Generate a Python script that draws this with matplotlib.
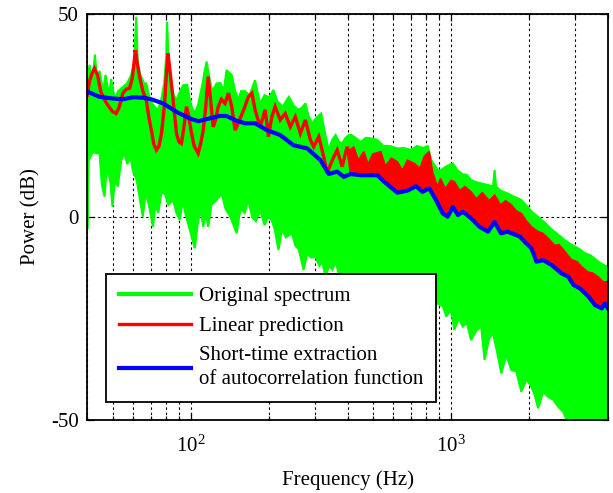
import numpy as np
import matplotlib
matplotlib.use("Agg")
import matplotlib.pyplot as plt
from matplotlib.lines import Line2D
from matplotlib.ticker import LogLocator, FixedLocator, NullFormatter

plt.rcParams['font.family'] = ['Liberation Serif', 'DejaVu Serif']
plt.rcParams['mathtext.fontset'] = 'custom'
plt.rcParams['mathtext.rm'] = 'Liberation Serif'
plt.rcParams['mathtext.it'] = 'Liberation Serif:italic'
plt.rcParams['axes.unicode_minus'] = False

# ---------------- data ----------------
# Original spectrum: upper envelope
green_up_f = [40, 40.8, 41.8, 42.8, 43.6, 44.6, 46, 47, 48.5, 49.4, 51, 52.5, 54.8, 57, 59, 60.5,
              61.7, 62.5, 64, 66, 67.4, 69, 71, 73, 74.8, 77, 79, 80.5, 81, 82, 84, 86, 88, 91,
              93.5, 96.8, 99, 101, 103.6, 107, 111, 113, 115, 118, 121, 125.6, 130, 134, 137,
              143.6, 148, 152, 156, 161.5, 168, 176.5, 180, 184.6, 192, 200, 207.7, 215, 226, 232,
              238, 248, 259, 268, 275.6, 283, 292, 300, 310, 317, 328, 339, 349, 360, 371, 381.5,
              393, 405, 414, 430, 450,
              470, 490, 520, 550, 580, 622, 660, 700, 740, 780, 813, 840, 870, 890, 915, 960,
              1016, 1060, 1110, 1150, 1194, 1250, 1320, 1400, 1450, 1470, 1490, 1550, 1650, 1750,
              1862, 1950, 2050, 2160, 2300, 2450, 2600, 2737, 2900, 3100, 3270, 3450, 3650, 3850, 4000]
green_up = [33, 37.5, 33, 40, 34, 36, 31, 35, 30, 34, 29, 31, 32, 33, 35, 38,
            49.3, 38, 35, 33, 32.9, 30, 28, 27, 26.4, 29, 33, 40, 48.1, 40, 33, 30, 28.8, 31,
            32.5, 32.5, 29, 27, 25.5, 28, 33, 36, 38.3, 34, 31, 32.9, 33, 31, 36.2,
            35, 31, 28.8, 31, 31, 30, 33.7, 31, 28, 30, 29.5, 31.3, 28.5, 27.2, 28.5,
            29.6, 27.5, 26.4, 27, 28, 25, 23.1, 24, 25, 25.5, 20.5, 16.5, 19, 20.2, 18.5, 18.2,
            19.5, 20.2, 20.2, 19.5, 18.5,
            19.5, 19.4, 19, 17.5, 17.5, 16.9, 17, 16.5, 17.5, 17, 17.5, 14, 12.5, 11.6, 11.6, 12.5,
            13.2, 11.5, 10.5, 10.4, 9.1, 8.6, 8.2, 7.8, 7.5, 11.6, 7.5, 6.5, 5.8, 5.0,
            4.2, 2.8, 1.2, 0.1, -1.5, -3.2, -4.5, -5.7, -6.8, -7.8, -8.9, -9.5, -10.8, -11.8, -12.2]

# Original spectrum: lower envelope
green_lo_f = [40, 40.5, 42, 43.5, 44.6, 45.5, 46.6, 47.5, 49, 50, 51, 52.4, 54, 55.6, 57, 58.5, 60,
              62, 63.5, 65.4, 67, 69, 71.5, 73, 75, 77, 79.4, 82, 85.5, 88, 90.7, 93, 96, 99,
              103.6, 106, 109, 111.6, 114, 116.6, 120, 125, 131.3, 136, 142, 146, 150, 155, 161,
              166.3, 172, 178, 184.6, 192, 198, 204.3, 210, 217.1, 224, 232, 244.8, 252, 260,
              271.2, 280, 290, 301, 312, 320, 329, 340, 350, 360, 370, 380, 450, 600, 800, 930,
              958, 1000, 1030, 1070, 1110, 1150, 1194, 1250, 1306, 1345, 1400, 1449, 1500, 1560,
              1630, 1705, 1780, 1862, 1950, 2037, 2100, 2160, 2260, 2360, 2470, 2578, 2700, 2822,
              3000, 4000]
green_lo = [-3, 14, 16, 15.7, 15.7, 8, 5, 12, 9, 2.5, 9, 7.5, 14, 15.7, 13, 15, 11.2,
            9, 5, 0.1, 6, 3, -2.4, 3, 1, 6, 5.8, 3, 4.2, 1, -0.7, 4, 0, -3,
            -7.7, -2, 2, -2.4, 1, -2.4, 3, 4, 5.8, 2, 0, -2, -4, 2, 1,
            4.2, 0, -1, 1.7, -2, 0, -0.7, -3, -8.1, -3, -5, -4, -7, -8,
            -13, -9, -10, -9.8, -12, -11, -14.7, -12, -13, -11, -13.9, -16, -20, -20, -20, -22,
            -24.5, -23, -27.8, -25, -27, -26, -30.3, -28, -27, -35.2, -30, -28.6, -33, -38.5,
            -34, -37.7, -38, -43, -40, -41.8, -44, -47.1, -43, -44.3, -45, -46.7, -48, -51,
            -51, -51]

# Linear prediction: low-frequency curve
red_f = [40, 40.8, 41.8, 42.6, 43.8, 45, 46.5, 48, 50, 51.6, 53, 54.8, 56.5, 58.1, 59.5, 60.5,
         61.3, 62.2, 63.5, 65.4, 67.4, 69, 70.5, 72, 73.7, 75.5, 77.1, 78.3, 79.4, 80.5, 81.7,
         82.8, 84.2, 86, 88.1, 90, 92, 94, 96.2, 98, 100.6, 103, 106.7, 109, 111.6, 114, 116.6,
         119, 121.9, 124.5, 127.5, 131, 135.3, 139.4, 143.6, 147.9, 152, 159.6, 166.3, 171.7,
         176.5, 184.6, 193, 198.7, 204.7, 210.8, 220.6, 230.6, 241, 252, 263.5, 275.6, 288,
         296.6, 310, 324, 334, 349.4, 365, 381.5, 398.5, 417]
red = [30, 33.5, 35.5, 36.6, 35, 31, 29, 27.5, 26, 25.5, 27, 30.5, 31.5, 31.7, 34, 38,
       41.1, 38, 34.6, 31, 28.8, 24.5, 21.4, 18, 16.5, 17.5, 20.6, 24.5, 28.8, 35, 40.3,
       37, 32.9, 27, 20.6, 18.5, 18.1, 22, 27.2, 25, 20.6, 17.5, 15.7, 18, 21.4, 27, 34.6,
       29, 22.2, 24, 27.2, 29, 28, 30.5, 27.2, 21.4, 23.1, 26.4, 29.6, 30.5,
       26.4, 22.2, 26.4, 19.8, 24.7, 27.2, 23.9, 25.5, 22.2, 24.7, 20.6, 23.9, 19.0,
       17.3, 19.8, 14.9, 10.8, 14, 16.5, 12.4, 17.3, 14]

# Linear prediction: upper edge of the dense high-frequency part
red_up_f = [400, 423, 440, 462, 480, 500, 537, 560, 590, 622, 650,
            680, 722, 760, 790, 824, 850, 870, 889, 910, 950, 1000, 1030, 1080, 1130, 1194, 1250,
            1320, 1400, 1470, 1550, 1620, 1705, 1780, 1862, 1950, 2037, 2150, 2250, 2360, 2500,
            2600, 2737, 2900, 3050, 3170, 3350, 3500, 3666, 3850, 4000]
red_up = [16, 17.3, 14, 16.1, 13, 15.5, 16.1, 12.5, 14.5, 13.6, 11.5,
          14, 13.2, 12, 15, 16.1, 11, 9, 7.5, 9.5, 7, 9, 8.7, 6.5, 7.5, 6.2, 4.5,
          6, 4, 5.4, 3, 4, 3.0, 1.5, 0.9, -1, -2.4, -3.5, -4, -5.2, -7,
          -6.8, -8.5, -10.5, -11, -12.2, -13.5, -13.8, -14.7, -16, -15.9]

# Short-time extraction of autocorrelation function
blue_f = [40, 44.6, 50.1, 54.8, 59.9, 65.4, 70.5, 78.2, 88.1, 99, 106.7, 115, 129, 137, 150, 161.5,
          176.5, 196, 220.6, 248, 280, 315, 339, 365, 387, 411, 449, 521, 553, 622, 680, 733,
          777, 824, 875, 929, 971, 1016, 1063, 1110, 1194, 1286, 1386, 1470, 1556, 1650, 1836,
          1919, 2037, 2128, 2259, 2432, 2660, 2822, 2951, 3130, 3373, 3577, 3797, 3900, 4000]
blue = [30.9, 29.6, 29.2, 29.0, 29.5, 29.4, 29.0, 28.0, 25.9, 24.3, 23.6, 24.1, 24.9, 24.9, 23.7, 23.1,
        23.1, 21.4, 20.2, 17.7, 16.9, 14.0, 10.6, 11.2, 9.9, 10.6, 10.3, 10.3, 8.7, 6.0, 6.5, 7.6,
        6.2, 7.1, 4.2, 0.9, 0.1, 2.5, 0.5, 1.3, -0.3, -2.4, -3.6, -1.2, -4.0, -3.6, -4.8,
        -6.1, -7.7, -11.0, -10.6, -11.8, -13.9, -14.7, -16.7, -17.6, -19.6, -21.7, -22.5, -21.3, -22.4]

labels = ["Original spectrum", "Linear prediction",
          "Short-time extraction\nof autocorrelation function"]
colors = ["#00ff00", "#ff0000", "#0000ff"]
y_ticks = [-50, 0, 50]

# ---------------- figure ----------------
fig = plt.figure(figsize=(6.13, 4.93), dpi=100)
ax = fig.add_axes([0.1424, 0.148, 0.849, 0.8235])
ax.set_xscale('log')

# green: dense spectrum drawn as band between its envelopes
gx = np.concatenate([green_up_f, green_lo_f[::-1]])
gy = np.concatenate([green_up, green_lo[::-1]])
ax.fill(gx, gy, facecolor=colors[0], edgecolor=colors[0], linewidth=1.5, zorder=2)

# red: low-frequency curve + dense high-frequency band down to the blue curve
ax.plot(red_f, red, color=colors[1], lw=2.4, zorder=3, solid_joinstyle='miter')
bmask = np.array(blue_f) >= 400
rx = np.concatenate([red_up_f, np.array(blue_f)[bmask][::-1]])
ry = np.concatenate([red_up, np.array(blue)[bmask][::-1]])
ax.fill(rx, ry, facecolor=colors[1], edgecolor=colors[1], linewidth=1.2, zorder=3)

# blue
ax.plot(blue_f, blue, color=colors[2], lw=3.0, zorder=4)

ax.set_xlim(40, 4000)
ax.set_ylim(-50, 50)
ax.yaxis.set_major_locator(FixedLocator(y_ticks))
ax.xaxis.set_major_locator(LogLocator(base=10, numticks=10))
ax.xaxis.set_minor_locator(LogLocator(base=10, subs=np.arange(2, 10), numticks=20))
ax.xaxis.set_minor_formatter(NullFormatter())

ax.set_axisbelow(True)
grid_style = dict(color='black', linestyle=(0, (2.2, 2.6)), linewidth=0.8)
ax.grid(True, which='major', axis='both', **grid_style)
ax.grid(True, which='minor', axis='x', **grid_style)

for sp in ax.spines.values():
    sp.set_linewidth(1.3)
    sp.set_zorder(6)

ax.tick_params(which='both', direction='in', top=True, right=True, labelsize=15, width=0.9)
ax.tick_params(which='major', length=5, pad=6)
ax.tick_params(which='minor', length=3)
ax.tick_params(axis='x', which='major', pad=11)

ax.set_xlabel("Frequency (Hz)", fontsize=15, labelpad=10)
ax.set_ylabel("Power (dB)", fontsize=15, labelpad=8)

handles = [Line2D([], [], color=colors[0], lw=3.0),
           Line2D([], [], color=colors[1], lw=2.4),
           Line2D([], [], color=colors[2], lw=3.0)]
leg = ax.legend(handles, labels, loc='lower left', bbox_to_anchor=(0.036, 0.045),
                borderaxespad=0, fontsize=15, handlelength=3.46, handletextpad=0.4,
                borderpad=0.6, labelspacing=0.5, fancybox=False, framealpha=1,
                edgecolor='black')
leg.get_frame().set_linewidth(1.3)
leg.get_texts()[2].set_linespacing(1.35)
leg.set_zorder(10)

fig.savefig("out.png", dpi=100)
